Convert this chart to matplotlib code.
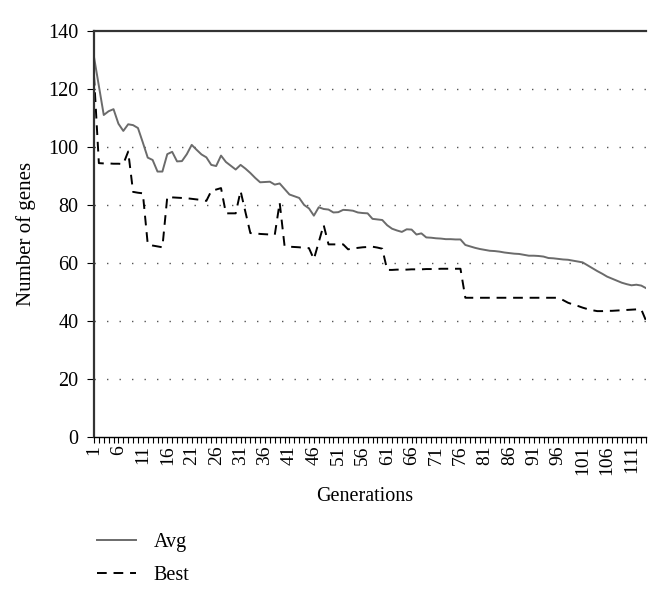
import numpy as np
import matplotlib
matplotlib.use("Agg")
import matplotlib.pyplot as plt

# generations 1..114
generations = list(range(1, 115))

avg = [131, 121, 111, 112.3, 113, 108, 105.5, 107.8, 107.5, 106.5,
       101.5, 96.3, 95.5, 91.5, 91.5, 97.5, 98.3, 95, 95.1, 97.5,
       100.7, 99, 97.4, 96.4, 93.8, 93.4, 97, 94.8, 93.5, 92.2,
       93.8, 92.5, 91, 89.3, 87.8, 87.9, 88, 87, 87.4, 85.5,
       83.6, 83, 82.4, 80, 78.8, 76.3, 79.2, 78.6, 78.4, 77.4,
       77.5, 78.3, 78.2, 78, 77.4, 77.2, 77.1, 75.2, 75, 74.8,
       73, 71.8, 71.2, 70.7, 71.6, 71.5, 69.8, 70.2, 68.8, 68.7,
       68.5, 68.4, 68.2, 68.2, 68.1, 68.1, 66.2, 65.7, 65.2, 64.8,
       64.5, 64.2, 64.1, 63.9, 63.6, 63.4, 63.2, 63.1, 62.8, 62.5,
       62.5, 62.4, 62.2, 61.7, 61.6, 61.4, 61.2, 61.1, 60.8, 60.5,
       60.2, 59.2, 58.2, 57.2, 56.3, 55.3, 54.6, 53.9, 53.2, 52.7,
       52.3, 52.5, 52.2, 51.3]

best = [124.5, 94.4, 94.3, 94.3, 94.2, 94.2, 94.1, 98.4, 84.5, 84.2,
        84, 66.5, 66, 65.7, 65.4, 82.8, 82.6, 82.5, 82.4, 82.3,
        82.1, 81.9, 81.7, 81.4, 84.8, 85.3, 85.8, 77.1, 77.1, 77.1,
        84.8, 77.5, 70.3, 70.2, 70, 69.9, 69.8, 69.7, 80.8, 65.9,
        65.6, 65.5, 65.4, 65.2, 65.1, 61.3, 67.2, 73.1, 66.4, 66.4,
        66.4, 66.4, 64.7, 65, 65.2, 65.4, 65.5, 65.6, 65.3, 64.9,
        57.6, 57.6, 57.7, 57.7, 57.7, 57.8, 57.8, 57.8, 57.9, 57.9,
        57.9, 58, 58, 58, 58, 58, 48, 48, 48, 48,
        48, 48, 48, 48, 48, 48, 48, 48, 48, 48,
        48, 48, 48, 48, 48, 48, 47.2, 46.3, 45.7, 45.2,
        44.6, 44.1, 43.7, 43.4, 43.4, 43.5, 43.5, 43.6, 43.7, 43.8,
        43.9, 44, 44, 40]

y_ticks = [0, 20, 40, 60, 80, 100, 120, 140]

plt.rcParams['font.family'] = ['Liberation Serif', 'DejaVu Serif']

fig = plt.figure(figsize=(6.6, 5.93), dpi=100)
ax = fig.add_axes([0.1424, 0.263, 0.8366, 0.685])

ax.plot(generations, avg, color="#6b6b6b", lw=1.4, label="Avg")
ax.plot(generations, best, color="black", lw=1.4, dashes=(5, 3.5), label="Best")

ax.set_xlim(1, 114)
ax.set_ylim(0, 140)
ax.set_yticks(y_ticks)
ax.set_yticklabels([str(v) for v in y_ticks], fontsize=14.5)

ax.set_xticks(generations)
ax.set_xticklabels([str(g) if (g - 1) % 5 == 0 else "" for g in generations],
                   rotation=90, fontsize=14)
ax.tick_params(axis="x", length=4, width=0.8, pad=2)
ax.tick_params(axis="y", length=5, width=0.8, pad=6)

for v in y_ticks[1:-1]:
    ax.axhline(v, color="#555555", lw=1.0, linestyle=(0, (1, 8)), zorder=0)

ax.spines["right"].set_visible(False)
ax.spines["top"].set_linewidth(1.6)
ax.spines["top"].set_color("#333333")
ax.spines["left"].set_linewidth(1.6)
ax.spines["left"].set_color("#333333")
ax.spines["bottom"].set_linewidth(1.0)

ax.set_ylabel("Number of genes", fontsize=15, labelpad=9)
fig.text(0.553, 0.163, "Generations", fontsize=14.5, ha="center", va="center")

fig.legend(loc="upper left", bbox_to_anchor=(0.12, 0.132), frameon=False,
           fontsize=14.5, handlelength=1.9, labelspacing=0.7, handletextpad=0.9)

plt.savefig("out.png", dpi=100)
